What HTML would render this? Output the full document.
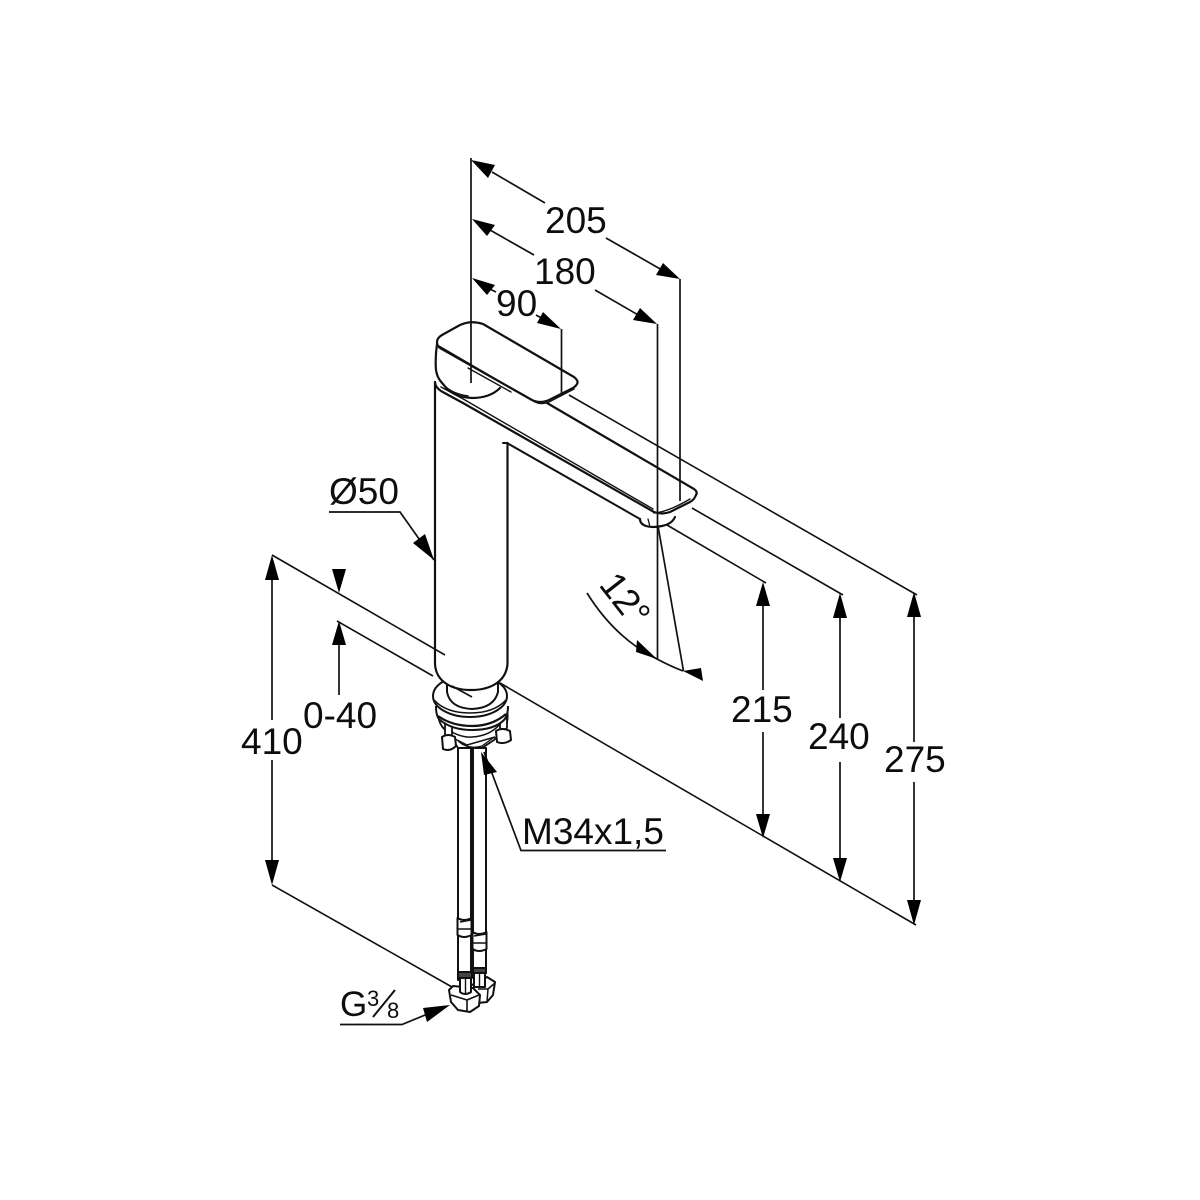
<!DOCTYPE html>
<html><head><meta charset="utf-8"><style>
html,body{margin:0;padding:0;background:#fff}
svg{display:block}
text{font-family:"Liberation Sans",sans-serif;fill:#0d0d0d;font-size:37px}
</style></head><body>
<svg width="1200" height="1200" viewBox="0 0 1200 1200" xmlns="http://www.w3.org/2000/svg">
<rect width="1200" height="1200" fill="#fff"/>

<!-- long extension lines -->
<g fill="none" stroke="#111" stroke-width="1.600">
<path d="M569 395L917 595"/>
<path d="M692 508L843 595"/>
<path d="M667 525L766 583"/>
<path d="M500 683L916 925"/>
<path d="M337 621L433 676"/>
<path d="M272 885L452 987"/>
</g>

<!-- collar (behind body) -->
<g fill="#fff" stroke="#111" stroke-width="2" stroke-linejoin="round">
<!-- plate and lower ring -->
<path d="M439 712Q437 722 445 730L452 738L458 748H482L494 740L505 727Q509 720 507 710Z" stroke-width="1.800"/>
<path d="M453 738L467 745L495 737" fill="none" stroke-width="1.500"/>
<path d="M458 741Q468 750 482 746L493 738" fill="none" stroke-width="1.300"/>
<path d="M445 728Q460 738 472 737Q490 736 500 724" fill="none" stroke-width="1.500"/>
<!-- bolts -->
<rect x="445" y="723" width="7" height="13" rx="1.500" stroke-width="1.800"/>
<rect x="500" y="718" width="7" height="11" rx="1.500" stroke-width="1.800"/>
<path d="M442 737Q448 733 455 737L456 746Q450 752 443 749Z" stroke-width="2"/>
<path d="M496 731Q502 727 510 731L511 740Q504 745 497 742Z" stroke-width="2"/>
<!-- second ring -->
<path d="M436 706Q436 717 440 720Q452 730 472 730Q494 730 504 720Q508 716 508 706" fill="#fff"/>
<path d="M438 716Q452 726 472 726Q492 726 506 714" fill="none" stroke-width="2.200"/>
<!-- flange -->
<ellipse cx="470" cy="696" rx="37" ry="21"/>
<path d="M434 700Q446 713 470 713Q494 713 506 700" fill="none" stroke-width="1.600"/>
<!-- neck -->
<path d="M447 676V692Q450 708 472 709Q494 708 498 692V676Z"/>
</g>

<!-- faucet outline -->
<g fill="none" stroke="#111" stroke-width="2.200" stroke-linejoin="round" stroke-linecap="round">
<!-- body -->
<path d="M435 382V664C436 682 452 690 471 690C490 690 506 682 507.500 664V443" fill="#fff"/>
<path d="M503 443H507L640 519" stroke-width="2"/>
<!-- spout top & bottom -->
<path d="M547 403L694 489Q698 492 696 495Q694 500 690 502L670 512Q662 515 654 512L463 403Q450 396 441 391Q435 387 435 382"/>
<path d="M441 387L465 400L653 509" stroke-width="1.400"/>
<path d="M654 513Q668 512 690 499" stroke-width="1.400"/>
<!-- aerator -->
<path d="M640 519Q640 524 646 526Q652 528 662 526Q672 524 675 517"/>
<path d="M648 519L650 527" stroke-width="1.300"/>
<!-- lever -->
<path d="M437 342Q437 338 442 335L460 325Q471 320 483 324L574 377Q579 381 577 384Q576 386 573 388L549 400Q540 404 532 400L440 348Q437 346 437 342Z" fill="#fff"/>
<path d="M439 346L535 402Q541 405 549 402L574 389" stroke-width="1.400"/>
<path d="M437 344Q435 358 436 370Q437 378 443 384"/>
<path d="M443 384Q452 397 472 398Q490 398 500 388"/>
<path d="M441 381Q448 393 468 396" stroke-width="1.400"/>
<path d="M468 368L511 392" stroke-width="1.400"/>
</g>

<!-- vertical dims overlaying faucet -->
<g fill="none" stroke="#111" stroke-width="1.700">
<path d="M471 158V383"/>
<path d="M561.500 329V393"/>
<path d="M657.500 324V660"/>
<path d="M680 279V501"/>
<path d="M658 526L683.500 671"/>
<path d="M272 555L445 655" stroke-width="1.600"/>
</g>
<path d="M452 686L472 697" fill="none" stroke="#111" stroke-width="1.600"/>

<!-- pipes -->
<g fill="#fff" stroke="#111" stroke-width="2" stroke-linejoin="round">
<rect x="473" y="748" width="13" height="225"/>
<rect x="458" y="748" width="13" height="232"/>
<path d="M472.500 932Q479 936 486.500 932V949Q479 953 472.500 949Z"/>
<path d="M473 943L486 943M474 936L486 934" fill="none" stroke-width="1.500"/>
<path d="M457.500 918Q464 922 471.500 918V935Q464 939 457.500 935Z"/>
<path d="M458 929L471 929M460 922L471 920" fill="none" stroke-width="1.500"/>
<!-- right nut -->
<path d="M470 986L487 977L495 982L493 995L487 1002L478 1003L470 998Z"/>
<path d="M478 989L488 989L495 983M488 989L487 1002" fill="none" stroke-width="1.500"/>
<rect x="473" y="968" width="13" height="5" fill="#444"/>
<rect x="474" y="973" width="11" height="14"/>
<path d="M479.500 973V987" stroke-width="1.400"/>
<!-- left nut -->
<path d="M449 990L453 986L473 988L480 995L479 1006L470 1012L458 1010L451 1002Z"/>
<path d="M451 995L467 1000L479 995M467 1000V1011" fill="none" stroke-width="1.600"/>
<rect x="458" y="972" width="14" height="6" fill="#444"/>
<path d="M460 978H471V992Q465 996 460 992Z"/>
<path d="M465.500 978V994" stroke-width="1.400"/>
</g>

<!-- dim lines -->
<g fill="none" stroke="#111" stroke-width="1.700">
<path d="M492 172L545 203M606 238L662 270"/>
<path d="M490 230L534 255M595 290L640 316"/>
<path d="M490 289L496 292M536 315L545 320"/>
<path d="M272 578V720M272 760V862"/>
<path d="M339 645V695"/>
<path d="M763 604V690M763 732V816"/>
<path d="M840 616V718M840 762V860"/>
<path d="M914 615V742M914 782V902"/>
<path d="M329 512H400L434 560"/>
<path d="M666 850.500H521L484 752"/>
<path d="M340 1024.500H402L430 1013"/>
<path d="M587 593Q615 638 657 659Q670 666 683 671"/>
<path d="M373 1017L395 990" stroke-width="2"/>
</g>

<!-- arrowheads -->
<g fill="#000">
<path d="M471 160L495 165L488 178Z"/>
<path d="M680 279L663 263L656 275Z"/>
<path d="M472 219L495 225L487 236Z"/>
<path d="M657 324L640 308L633 320Z"/>
<path d="M472 278L495 285L487 295Z"/>
<path d="M561 329L543 312L537 323Z"/>
<path d="M272 555L265 580H279Z"/>
<path d="M272 885L265 860H279Z"/>
<path d="M339 593L332 569H346Z"/>
<path d="M339 621L332 645H346Z"/>
<path d="M763 582L756 606H770Z"/>
<path d="M763 838L756 814H770Z"/>
<path d="M840 593L833 618H847Z"/>
<path d="M840 882L833 858H847Z"/>
<path d="M914 592L907 617H921Z"/>
<path d="M914 925L907 900H921Z"/>
<path d="M434 560L413 543L425 534Z"/>
<path d="M481 752L497 772L484 775Z"/>
<path d="M450 1005L423 1008L427 1022Z"/>
<path d="M657 659L637 640L636 652Z"/>
<path d="M683 671L701 668L703 681Z"/>
</g>

<!-- labels -->
<text x="545" y="233">205</text>
<text x="534" y="284">180</text>
<text x="496" y="316">90</text>
<text x="329" y="504">Ø50</text>
<text x="731" y="722">215</text>
<text x="808" y="749">240</text>
<text x="884" y="772">275</text>
<text x="241" y="754">410</text>
<text x="303" y="728">0-40</text>
<text x="522" y="844">M34x1,5</text>
<text x="340" y="1016" style="font-size:35px">G</text>
<text x="367" y="1006" style="font-size:22px">3</text>
<text x="387" y="1018" style="font-size:22px">8</text>
<text transform="translate(598,585) rotate(52)">12°</text>
</svg>
</body></html>
